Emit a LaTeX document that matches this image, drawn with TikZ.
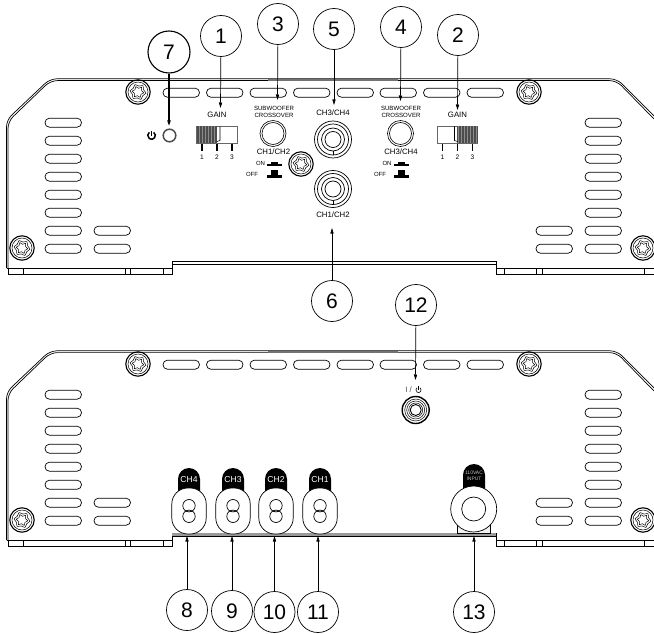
\documentclass[tikz,border=0pt]{standalone}
\usepackage{fontspec}
\setmainfont{Liberation Sans}
\usepackage{tikz}
\usetikzlibrary{arrows.meta}
\tikzset{>/.tip={Triangle[length=5.5pt,width=3.2pt]}}
\tikzset{callout/.style={draw,circle,minimum size=41pt,inner sep=0pt,line width=0.7pt,font=\fontsize{21}{24}\selectfont}}
\tikzset{pointer/.style={->,line width=0.7pt}}
\tikzset{edge/.style={line width=0.7pt}}
\tikzset{slot/.style={line width=0.7pt,rounded corners=4.4pt}}
\tikzset{lab/.style={inner sep=0pt,font=\fontsize{7.8}{8}\selectfont}}
\tikzset{tiny/.style={inner sep=0pt,font=\fontsize{6.1}{6.9}\selectfont}}
\tikzset{wee/.style={inner sep=0pt,font=\fontsize{6}{6}\selectfont}}
\tikzset{tab/.style={inner sep=0pt,text=white,font=\fontsize{8.6}{9}\selectfont}}

\newcommand{\slotat}[2]{\draw[slot] (#1,#2-4.5) rectangle (#1+36.5,#2+4.5);}
\newcommand{\screw}[2]{
\begin{scope}[shift={(#1,#2)}]
\draw[line width=1.1pt] (0,0) circle (12.2pt);
\draw[line width=0.5pt] (0,0) circle (10pt);
\draw[line width=0.5pt] plot[smooth cycle,samples at={0,30,...,330}] (\x+8:{6+2*(mod(\x,60)==0)});
\draw[line width=0.5pt] plot[smooth cycle,samples at={0,30,...,330}] (\x+8:{3.8+2*(mod(\x,60)==0)});
\end{scope}
}
\newcommand{\powerglyph}[4]{
\draw[line width=#4] (#1,#2) ++(55:#3) arc[start angle=55,end angle=-235,radius=#3];
\draw[line width=#4] (#1,#2) -- ++(0,-4.5);
}
\newcommand{\panel}[1]{
\begin{scope}[shift={(0,#1)}]
\draw[edge,rounded corners=7pt] (6.5,268) -- (6.5,120) -- (50,78.8) -- (617,78.8) -- (654,116);
\draw[edge,rounded corners=7pt] (8,268) -- (8,121.5) -- (50.5,80.6) -- (616.5,80.6) -- (654,119);
\draw[edge] (172,268) -- (6.5,268);
\draw[edge] (8,268) -- (8,274) -- (172,274) -- (172,261) -- (496,261) -- (496,274) -- (654,274);
\draw[edge] (172,264.5) -- (496,264.5);
\draw[edge] (496,268) -- (654,268);
\foreach \i in {23,125,130,163,504,536,542,644}
{
  \draw[line width=0.5pt] (\i,268) -- (\i,274);
}
\foreach \i in {163,206.5,250,293.5,337,380,423.5,467}
{
  \slotat{\i}{92.7}
}
\foreach \j in {122.7,140.7,158.7,176.7,194.7,212.7,230.7,248.7}
{
  \slotat{45}{\j}
  \slotat{585}{\j}
}
\foreach \j in {230.7,248.7}
{
  \slotat{94}{\j}
  \slotat{536}{\j}
}
\screw{138}{92}
\screw{529}{92}
\screw{22}{248}
\screw{643}{248}
\end{scope}
}
\newcommand{\gainswitch}[4]{
\draw[line width=0.8pt,black!60] (#1,126) rectangle (#1+40.5,143);
\fill[black!45] (#2,126.5) rectangle (#2+20,142.5);
\foreach \k in {0,1.5,...,19.5}
{
  \draw[line width=0.5pt,black!70] (#2+\k,126.5) -- (#2+\k,142.5);
}
\draw[line width=0.6pt] (#3,126.5) -- (#3,140.5) -- (#4,141.5);
\foreach \k/\n in {5.5/1,20.5/2,35.5/3}
{
  \draw[line width=1.1pt] (#1+\k,144) -- (#1+\k,151);
  \node[tiny,font=\fontsize{6.6}{7}\selectfont] (gain#1n\n) at (#1+\k,157.3) {\n};
}
}
\newcommand{\onoff}[4]{
\node[wee] (on#1) at (#2,163.5) {ON};
\node[wee] (off#1) at (#3,174.6) {OFF};
\fill (#4,166) rectangle (#4+15,163.8);
\fill (#4+4,161.5) rectangle (#4+11,164);
\fill (#4,178) rectangle (#4+15,175);
\fill (#4+4,169.5) rectangle (#4+11,176);
}
\newcommand{\knob}[2]{
\draw[line width=0.6pt] (#1,#2) circle (13pt);
\draw[line width=0.6pt] (#1,#2) circle (11pt);
}
\newcommand{\rca}[2]{
\foreach \r in {18.5,15.5,11.5,8}
{
  \draw[line width=0.7pt] (#1,#2) circle (\r pt);
}
\draw[line width=0.5pt] (#1,#2+11.5) -- (#1,#2+15.5);
}
\newcommand{\terminal}[2]{
\fill (#1-11,492) -- (#1-11,479) arc[start angle=180,end angle=0,radius=11pt] -- (#1+11,492) -- cycle;
\node[tab] (tab#2) at (#1,479.5) {#2};
\draw[line width=0.7pt,fill=white,rounded corners=16pt] (#1-17.2,488) rectangle (#1+17.2,534);
\draw[line width=0.7pt] (#1,505.7) circle (6.2pt);
\draw[line width=0.7pt] (#1,516.3) circle (6.2pt);
}

\begin{document}
\begin{tikzpicture}[x=1pt,y=-1pt]
\useasboundingbox (0,0) rectangle (654,634);

\panel{0}
\panel{272}
\screw{301}{164}
\fill[black!55] (268,78.6) rectangle (398,80.9);
\fill[black!55] (268,350.6) rectangle (398,352.9);
\fill[black!40] (172.4,533) rectangle (495.6,536);

% front controls
\powerglyph{151.5}{135.5}{3.8pt}{1.5pt}
\draw[line width=1.5pt,black!70] (169.5,135.5) circle (6.3pt);
\node[lab] (gainl) at (217,115) {GAIN};
\node[lab] (gainr) at (457.5,115) {GAIN};
\gainswitch{196.5}{197}{220}{217}
\gainswitch{437}{457.5}{454.5}{457.5}
\node[tiny,align=center] (subl) at (274,112) {SUBWOOFER\\CROSSOVER};
\node[tiny,align=center] (subr) at (401,112) {SUBWOOFER\\CROSSOVER};
\knob{273}{133.5}
\knob{400.5}{133.5}
\node[lab] (xl) at (273.5,152) {CH1/CH2};
\node[lab] (xr) at (401,152) {CH3/CH4};
\onoff{l}{260.5}{252}{267}
\onoff{r}{387}{380}{393.5}
\node[lab] (rcat) at (333,113) {CH3/CH4};
\node[lab] (rcab) at (333,215) {CH1/CH2};
\rca{333}{139.5}
\rca{333}{189}

% rear controls
\node[lab,text=black!70] (onoff) at (408.5,390) {I /};
\powerglyph{418.5}{390}{2.6pt}{0.6pt}
\draw[line width=1.4pt] (415.7,410) circle (13.5pt);
\draw[line width=0.5pt] (415.7,410) circle (11pt);
\draw[line width=0.5pt] (415.7,410) circle (9pt);
\draw[line width=0.5pt] (415.7,410) circle (7pt);
\draw[line width=0.9pt] (415.7,410) circle (5.5pt);
\terminal{189}{CH4}
\terminal{233}{CH3}
\terminal{276}{CH2}
\terminal{320}{CH1}
\fill (463,490) -- (463,475) arc[start angle=180,end angle=0,radius=11pt] -- (485,490) -- cycle;
\node[inner sep=0pt,text=black!25,align=center,font=\fontsize{5}{6.4}\selectfont] (acin) at (474,475.5) {110VAC\\INPUT};
\draw[line width=0.5pt,fill=black!5] (457,520) rectangle (490,533);
\draw[line width=0.7pt,fill=white] (473.7,509) circle (23pt);
\draw[line width=0.7pt] (473.7,509) circle (12pt);

% callouts
\node[callout,line width=1.1pt,minimum size=42pt] (n7) at (169,52) {7};
\node[callout] (n1) at (221,36) {1};
\node[callout] (n3) at (278,24) {3};
\node[callout] (n5) at (334,29) {5};
\node[callout] (n4) at (401,27) {4};
\node[callout] (n2) at (458,35) {2};
\node[callout] (n6) at (332,301) {6};
\node[callout] (n12) at (416,305) {12};
\node[callout] (n8) at (187,610) {8};
\node[callout] (n9) at (232,611) {9};
\node[callout] (n10) at (274.5,612) {10};
\node[callout] (n11) at (318,612) {11};
\node[callout] (n13) at (474,612) {13};

\coordinate (t7) at (169,126);
\coordinate (t1) at (220.5,108);
\coordinate (t3) at (277.5,100);
\coordinate (t5) at (334,105);
\coordinate (t4) at (400.5,101);
\coordinate (t2) at (457.5,110);
\coordinate (t6) at (332,228);
\coordinate (t12) at (415.5,380);
\coordinate (t8) at (187,536);
\coordinate (t9) at (232,536);
\coordinate (t10) at (274.5,536);
\coordinate (t11) at (318,536);
\coordinate (t13) at (474,536);

\draw[pointer,line width=1.2pt] (n7) to (t7);
\foreach \i in {1,3,5,4,2,6,12,8,9,10,11,13}
{
  \draw[pointer] (n\i) to (t\i);
}
\end{tikzpicture}
\end{document}
